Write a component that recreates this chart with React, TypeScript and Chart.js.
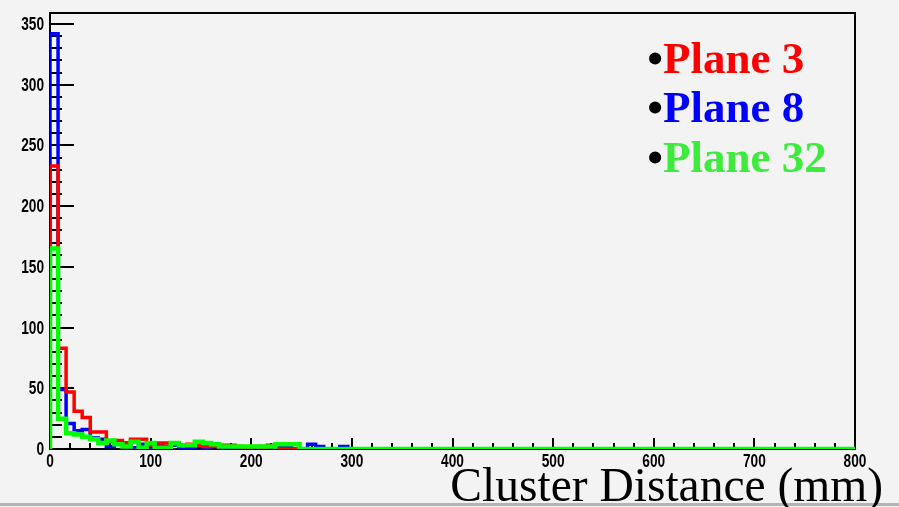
import React, { useEffect, useRef } from "react";
import { Chart, registerables } from "chart.js";

Chart.register(...registerables);

// ---- data ----
const BIN_WIDTH = 8; // mm, 100 bins over 0..800 mm
const X_MIN = 0;
const X_MAX = 800;
const Y_MAX = 359;

const binStarts: number[] = Array.from({ length: 100 }, (_, i) => i * BIN_WIDTH);

const plane3: number[] = [
  233, 83, 47, 31, 26, 14, 14, 6, 7, 5, 8, 8, 3, 5, 5, 4, 3, 4, 3, 2,
  2, 3, 3, 2, 1, 2, 1, 3, 0, 0, 0, 0, 0, 0, 0, 0, 0, 0, 0, 0,
  0, 0, 0, 0, 0, 0, 0, 0, 0, 0, 0, 0, 0, 0, 0, 0, 0, 0, 0, 0,
  0, 0, 0, 0, 0, 0, 0, 0, 0, 0, 0, 0, 0, 0, 0, 0, 0, 0, 0, 0,
  0, 0, 0, 0, 0, 0, 0, 0, 0, 0, 0, 0, 0, 0, 0, 0, 0, 0, 0, 0,
];

const plane8: number[] = [
  342, 49, 21, 15, 16, 9, 8, 2, 4, 5, 1, 4, 1, 3, 2, 3, 0, 1, 2, 1,
  2, 1, 1, 0, 1, 1, 2, 1, 1, 1, 0, 0, 4, 2, 0, 0, 2, 0, 0, 0,
  0, 0, 0, 0, 0, 0, 0, 0, 0, 0, 0, 0, 0, 0, 0, 0, 0, 0, 0, 0,
  0, 0, 0, 0, 0, 0, 0, 0, 0, 0, 0, 0, 0, 0, 0, 0, 0, 0, 0, 0,
  0, 0, 0, 0, 0, 0, 0, 0, 0, 0, 0, 0, 0, 0, 0, 0, 0, 0, 0, 0,
];

const plane32: number[] = [
  165, 25, 13, 12, 10, 8, 5, 7, 4, 2, 6, 1, 5, 1, 1, 5, 3, 3, 6, 5,
  4, 2, 2, 2, 2, 2, 2, 2, 4, 4, 4, 0, 0, 0, 0, 0, 0, 0, 0, 0,
  0, 0, 0, 0, 0, 0, 0, 0, 0, 0, 0, 0, 0, 0, 0, 0, 0, 0, 0, 0,
  0, 0, 0, 0, 0, 0, 0, 0, 0, 0, 0, 0, 0, 0, 0, 0, 0, 0, 0, 0,
  0, 0, 0, 0, 0, 0, 0, 0, 0, 0, 0, 0, 0, 0, 0, 0, 0, 0, 0, 0,
];

const xTicks: number[] = [0, 100, 200, 300, 400, 500, 600, 700, 800];
const yTicks: number[] = [0, 50, 100, 150, 200, 250, 300, 350];
const X_MINOR_STEP = 20;
const Y_MINOR_STEP = 10;

const legendLabels: string[] = ["Plane 3", "Plane 8", "Plane 32"];
const xTitle = "Cluster Distance (mm)";

// ---- styling ----
const BG = "#f3f3f3";
const RED = "#ff0000";
const BLUE = "#0000ff";
const GREEN = "#00ff00";
const LEGEND_COLORS = [RED, BLUE, "#3ceb3c"];
const TICK_FONT = "bold 18px 'Liberation Sans', Arial, sans-serif";
const TICK_SQUEEZE = 0.76;
const SERIF = "'Liberation Serif', 'DejaVu Serif', serif";

function toSteps(vals: number[]) {
  const pts = [{ x: X_MIN, y: 0 }];
  binStarts.forEach((b, i) => pts.push({ x: b, y: vals[i] }));
  pts.push({ x: X_MAX, y: vals[vals.length - 1] });
  return pts;
}

function squeezedText(ctx: CanvasRenderingContext2D, text: string, x: number, y: number, align: "left" | "right" | "center") {
  ctx.save();
  ctx.translate(x, y);
  ctx.scale(TICK_SQUEEZE, 1);
  ctx.textAlign = align;
  ctx.fillText(text, 0, 0);
  ctx.restore();
}

const rootStyle = {
  id: "rootStyle",
  beforeDraw(chart: any) {
    const { ctx, width, height } = chart;
    ctx.save();
    ctx.fillStyle = BG;
    ctx.fillRect(0, 0, width, height);
    ctx.restore();
  },
  beforeDatasetsDraw(chart: any) {
    const { ctx, chartArea: a, scales } = chart;
    const x = scales.x;
    const y = scales.y;
    ctx.save();
    ctx.strokeStyle = "#000";
    ctx.lineWidth = 2;
    ctx.strokeRect(a.left, a.top, a.right - a.left, a.bottom - a.top);
    ctx.beginPath();
    for (let v = 0; v <= Y_MAX; v += Y_MINOR_STEP) {
      const py = Math.round(y.getPixelForValue(v));
      const major = yTicks.includes(v);
      ctx.moveTo(a.left, py);
      ctx.lineTo(a.left + (major ? 24 : 12), py);
    }
    for (let v = X_MIN; v <= X_MAX; v += X_MINOR_STEP) {
      const px = Math.round(x.getPixelForValue(v));
      const major = xTicks.includes(v);
      ctx.moveTo(px, a.bottom);
      ctx.lineTo(px, a.bottom - (major ? 11 : 6));
    }
    ctx.stroke();

    // tick labels
    ctx.fillStyle = "#000";
    ctx.font = TICK_FONT;
    ctx.textBaseline = "middle";
    yTicks.forEach((v) => {
      squeezedText(ctx, String(v), a.left - 6, y.getPixelForValue(v) + 1, "right");
    });
    ctx.textBaseline = "top";
    xTicks.forEach((v) => {
      squeezedText(ctx, String(v), x.getPixelForValue(v), a.bottom + 4, "center");
    });
    ctx.restore();
  },
  afterDraw(chart: any) {
    const { ctx, width } = chart;
    ctx.save();
    ctx.fillStyle = "#b4b4b4";
    ctx.fillRect(0, 503, width, 3);
    ctx.fillStyle = "#000";
    ctx.font = `47.5px ${SERIF}`;
    ctx.textAlign = "right";
    ctx.textBaseline = "alphabetic";
    ctx.fillText(xTitle, 883, 501);
    ctx.font = `bold 45px ${SERIF}`;
    const baselines = [73, 122, 172];
    legendLabels.forEach((t, i) => {
      ctx.textAlign = "right";
      ctx.fillStyle = "#000";
      ctx.fillText("\u2022", 663, baselines[i]);
      ctx.textAlign = "left";
      ctx.fillStyle = LEGEND_COLORS[i];
      ctx.fillText(t, 663, baselines[i]);
    });
    ctx.restore();
  },
};

export default function App() {
  const ref = useRef<HTMLCanvasElement | null>(null);

  useEffect(() => {
    document.body.style.margin = "0";
    document.body.style.background = BG;
    const canvas = ref.current;
    if (!canvas) return;
    const common = {
      fill: false,
      pointRadius: 0,
      pointHoverRadius: 0,
      stepped: "before" as const,
      borderCapStyle: "butt" as const,
      borderJoinStyle: "miter" as const,
      tension: 0,
    };
    const chart = new Chart(canvas, {
      type: "line",
      data: {
        datasets: [
          { ...common, label: legendLabels[0], data: toSteps(plane3), borderColor: RED, borderWidth: 3.5, order: 1 },
          { ...common, label: legendLabels[1], data: toSteps(plane8), borderColor: BLUE, borderWidth: 3.5, order: 2 },
          { ...common, label: legendLabels[2], data: toSteps(plane32), borderColor: GREEN, borderWidth: 4.5, order: 0 },
        ],
      },
      options: {
        responsive: false,
        animation: false,
        devicePixelRatio: 1,
        layout: { padding: { top: 13, right: 44, left: 0, bottom: 0 } },
        plugins: { legend: { display: false }, tooltip: { enabled: false } },
        scales: {
          x: {
            type: "linear",
            min: X_MIN,
            max: X_MAX,
            afterBuildTicks: (s: any) => {
              s.ticks = xTicks.map((v) => ({ value: v }));
            },
            afterFit: (s: any) => {
              s.height = 58;
            },
            grid: { display: false, drawTicks: false },
            border: { display: false },
            ticks: { display: false },
          },
          y: {
            type: "linear",
            min: 0,
            max: Y_MAX,
            afterBuildTicks: (s: any) => {
              s.ticks = yTicks.map((v) => ({ value: v }));
            },
            afterFit: (s: any) => {
              s.width = 50;
            },
            grid: { display: false, drawTicks: false },
            border: { display: false },
            ticks: { display: false },
          },
        },
      },
      plugins: [rootStyle],
    });
    return () => chart.destroy();
  }, []);

  return (
    <div style={{ position: "absolute", left: 0, top: 0, width: 899, height: 507, background: BG }}>
      <canvas ref={ref} width={899} height={507} style={{ display: "block" }} />
    </div>
  );
}
